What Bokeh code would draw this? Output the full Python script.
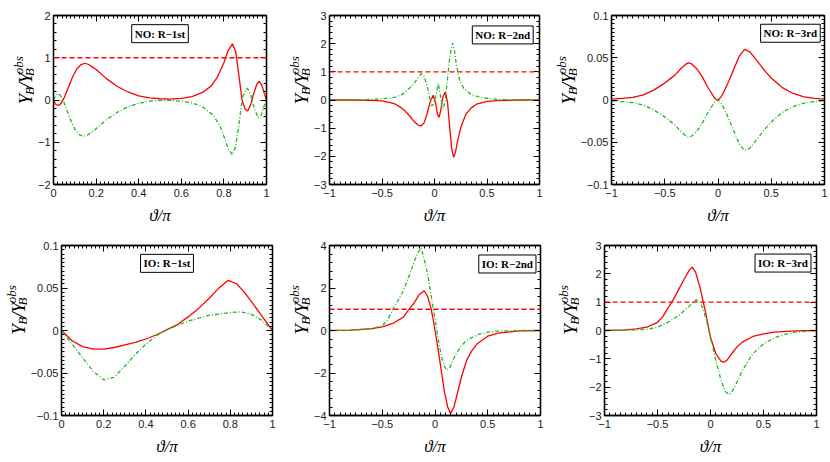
import numpy as np
from bokeh.plotting import figure
from bokeh.layouts import row, column
from bokeh.models import Range1d, FixedTicker, LinearAxis, Span, Label, CustomJSTickFormatter
from bokeh.core.properties import value
from bokeh.embed import file_html
from bokeh.resources import INLINE

RED = "#ff0000"
GREEN = "#22b822"

# ---------------- data ----------------
# Panel 1: NO R-1st
p1_red_x = [0, 0.01, 0.023, 0.035, 0.05, 0.07, 0.09, 0.11, 0.13, 0.148, 0.165, 0.18, 0.2, 0.25, 0.3, 0.35, 0.4, 0.45, 0.5,
            0.55, 0.6, 0.65, 0.7, 0.74, 0.77, 0.8, 0.82, 0.84, 0.855, 0.87, 0.885, 0.9, 0.912, 0.925, 0.94, 0.955, 0.966,
            0.978, 0.99, 1.0]
p1_red_y = [0, -0.1, -0.13, -0.08, 0.05, 0.3, 0.55, 0.74, 0.84, 0.87, 0.84, 0.79, 0.72, 0.5, 0.32, 0.19, 0.1, 0.05, 0.03,
            0.02, 0.04, 0.08, 0.18, 0.33, 0.55, 0.88, 1.17, 1.33, 1.15, 0.6, 0.0, -0.22, -0.26, -0.12, 0.15, 0.38, 0.44,
            0.35, 0.15, 0.0]
p1_grn_x = [0, 0.01, 0.02, 0.03, 0.045, 0.06, 0.08, 0.1, 0.12, 0.14, 0.16, 0.18, 0.2, 0.25, 0.3, 0.35, 0.4, 0.45, 0.5,
            0.55, 0.6, 0.65, 0.7, 0.75, 0.78, 0.8, 0.82, 0.84, 0.855, 0.87, 0.88, 0.89, 0.91, 0.925, 0.94, 0.96, 0.975,
            0.99, 1.0]
p1_grn_y = [0, 0.1, 0.15, 0.12, 0.0, -0.2, -0.47, -0.69, -0.82, -0.86, -0.83, -0.76, -0.68, -0.46, -0.29, -0.16, -0.08,
            -0.03, -0.01, -0.01, -0.03, -0.07, -0.16, -0.36, -0.6, -0.86, -1.15, -1.3, -1.1, -0.6, -0.2, 0.1, 0.28, 0.15,
            -0.15, -0.42, -0.36, -0.12, 0.0]

# Panel 2: NO R-2nd
p2_red_x = [-1, -0.8, -0.6, -0.5, -0.42, -0.37, -0.32, -0.28, -0.24, -0.2, -0.16, -0.13, -0.1, -0.07, -0.04, -0.012,
            0.01, 0.028, 0.044, 0.06, 0.08, 0.104, 0.125, 0.145, 0.165, 0.182, 0.2, 0.22, 0.25, 0.3, 0.35, 0.4, 0.5,
            0.6, 0.8, 1]
p2_red_y = [0, 0, -0.01, -0.03, -0.09, -0.15, -0.27, -0.39, -0.55, -0.74, -0.88, -0.92, -0.82, -0.48, -0.05, 0.17,
            -0.1, -0.5, -0.62, -0.35, 0.12, 0.28, -0.1, -1.0, -1.75, -2.04, -1.85, -1.45, -0.98, -0.5, -0.28, -0.15,
            -0.05, -0.02, 0, 0]
p2_grn_x = [-1, -0.7, -0.5, -0.42, -0.37, -0.3, -0.25, -0.2, -0.16, -0.123, -0.1, -0.07, -0.045, -0.028, -0.01, 0.01,
            0.035, 0.055, 0.07, 0.082, 0.1, 0.12, 0.14, 0.16, 0.172, 0.19, 0.21, 0.24, 0.28, 0.35, 0.45, 0.6, 0.8, 1]
p2_grn_y = [0, 0.01, 0.04, 0.07, 0.1, 0.22, 0.38, 0.55, 0.78, 0.94, 0.85, 0.5, 0.05, -0.21, -0.15, 0.1, 0.59, 0.2,
            -0.25, -0.33, -0.05, 0.6, 1.35, 1.85, 2.02, 1.75, 1.2, 0.7, 0.4, 0.2, 0.08, 0.02, 0, 0]

# Panel 3: NO R-3rd
p3_x = [-1, -0.9, -0.8, -0.7, -0.6, -0.5, -0.45, -0.4, -0.35, -0.3, -0.28, -0.25, -0.2, -0.15, -0.1, -0.06, -0.03,
        -0.01, 0.01, 0.03, 0.06, 0.1, 0.15, 0.2, 0.25, 0.3, 0.35, 0.4, 0.45, 0.5, 0.6, 0.7, 0.8, 0.9, 1]
p3_red_y = [0.001, 0.002, 0.003, 0.006, 0.012, 0.02, 0.025, 0.03, 0.037, 0.0425, 0.044, 0.043, 0.037, 0.028, 0.016,
            0.008, 0.002, 0.0, 0.001, 0.004, 0.011, 0.022, 0.037, 0.052, 0.06, 0.057, 0.049, 0.041, 0.033, 0.026,
            0.015, 0.008, 0.004, 0.002, 0.001]
p3_grn_y = [-0.001, -0.002, -0.003, -0.006, -0.012, -0.02, -0.025, -0.03, -0.037, -0.0425, -0.044, -0.043, -0.037,
            -0.028, -0.016, -0.008, -0.002, 0.0, -0.001, -0.004, -0.011, -0.022, -0.037, -0.052, -0.06, -0.057, -0.049,
            -0.041, -0.033, -0.026, -0.015, -0.008, -0.004, -0.002, -0.001]

# Panel 4: IO R-1st
p4_red_x = [0, 0.05, 0.1, 0.15, 0.2, 0.25, 0.3, 0.35, 0.4, 0.45, 0.5, 0.55, 0.6, 0.65, 0.7, 0.75, 0.79, 0.83, 0.87,
            0.9, 0.95, 1.0]
p4_red_y = [0, -0.012, -0.019, -0.022, -0.022, -0.02, -0.017, -0.014, -0.01, -0.005, 0.001, 0.007, 0.016, 0.026,
            0.038, 0.051, 0.059, 0.055, 0.044, 0.034, 0.017, 0]
p4_grn_x = [0, 0.05, 0.1, 0.15, 0.2, 0.25, 0.3, 0.35, 0.4, 0.45, 0.5, 0.55, 0.6, 0.7, 0.8, 0.85, 0.9, 0.95, 1.0]
p4_grn_y = [0, -0.016, -0.032, -0.048, -0.058, -0.055, -0.042, -0.028, -0.016, -0.006, 0.001, 0.006, 0.011, 0.018,
            0.021, 0.022, 0.019, 0.012, 0]

# Panel 5: IO R-2nd
p5_red_x = [-1, -0.8, -0.6, -0.5, -0.4, -0.3, -0.25, -0.2, -0.15, -0.103, -0.07, -0.04, -0.02, 0, 0.03, 0.06, 0.09,
            0.12, 0.147, 0.18, 0.21, 0.25, 0.3, 0.35, 0.4, 0.5, 0.6, 0.8, 1]
p5_red_y = [0, 0.02, 0.09, 0.17, 0.33, 0.63, 0.97, 1.29, 1.68, 1.87, 1.6, 1.1, 0.6, 0.0, -0.9, -1.9, -2.9, -3.6, -3.9,
            -3.6, -3.0, -2.2, -1.4, -0.95, -0.62, -0.27, -0.12, -0.02, 0]
p5_grn_x = [-1, -0.8, -0.6, -0.5, -0.45, -0.4, -0.35, -0.3, -0.25, -0.2, -0.16, -0.13, -0.1, -0.07, -0.05, -0.03,
            -0.015, 0, 0.03, 0.06, 0.09, 0.113, 0.14, 0.17, 0.2, 0.25, 0.3, 0.4, 0.5, 0.6, 0.8, 1]
p5_grn_y = [0, 0.01, 0.07, 0.24, 0.48, 1.0, 1.41, 1.88, 2.51, 3.2, 3.68, 3.89, 3.29, 2.67, 2.04, 1.45, 1.0, 0.55,
            -0.4, -1.2, -1.7, -1.87, -1.75, -1.4, -1.1, -0.72, -0.46, -0.2, -0.08, -0.03, 0, 0]

# Panel 6: IO R-3rd
p6_red_x = [-1, -0.8, -0.7, -0.6, -0.5, -0.45, -0.4, -0.35, -0.3, -0.25, -0.2, -0.172, -0.14, -0.1, -0.05, 0, 0.05,
            0.1, 0.128, 0.16, 0.2, 0.25, 0.3, 0.4, 0.5, 0.6, 0.8, 1]
p6_red_y = [0, 0.02, 0.06, 0.12, 0.29, 0.49, 0.8, 1.1, 1.45, 1.8, 2.13, 2.24, 2.05, 1.53, 0.7, -0.24, -0.82, -1.09,
            -1.12, -1.03, -0.82, -0.58, -0.41, -0.21, -0.12, -0.06, -0.01, 0]
p6_grn_x = [-1, -0.8, -0.6, -0.5, -0.4, -0.3, -0.2, -0.16, -0.134, -0.1, -0.07, -0.04, 0, 0.05, 0.1, 0.14, 0.175, 0.2,
            0.25, 0.3, 0.4, 0.5, 0.6, 0.7, 0.8, 1]
p6_grn_y = [0, 0.01, 0.04, 0.12, 0.29, 0.53, 0.86, 1.02, 1.08, 1.0, 0.75, 0.4, -0.24, -1.06, -1.76, -2.15, -2.26, -2.18,
            -1.82, -1.41, -0.82, -0.47, -0.26, -0.14, -0.06, 0]

titles = ["NO: R\u22121st", "NO: R\u22122nd", "NO: R\u22123rd", "IO: R\u22121st", "IO: R\u22122nd", "IO: R\u22123rd"]

x_major_01 = [0, 0.2, 0.4, 0.6, 0.8, 1]
x_major_11 = [-1, -0.5, 0, 0.5, 1]
y_major_p1 = [-2, -1, 0, 1, 2]
y_major_p2 = [-3, -2, -1, 0, 1, 2, 3]
y_major_small = [-0.1, -0.05, 0, 0.05, 0.1]
y_major_p5 = [-4, -2, 0, 2, 4]
y_major_p6 = [-3, -2, -1, 0, 1, 2, 3]

# y-axis title pieces:  Y_B / Y_B^obs   (text, centre along axis, baseline shift, font size)
ylab_text = ["Y", "B", "/", "Y", "B", "obs"]
ylab_along = [6, 17.5, 25, 35, 43.5, 53]
ylab_across = [0, 4, 0, 0, 4, -7]
ylab_size = ["19px", "13px", "19px", "19px", "13px", "13px"]

FMT = "return String(tick).replace('-', '\u2212');"

H_TOP, H_BOT = 234, 228


def minor(a, b, step):
    n = int(round((b - a) / step))
    return [round(a + i * step, 6) for i in range(n + 1)]


def style_axis(ax, ticker, labels):
    ax.ticker = ticker
    ax.axis_line_color = "black"
    ax.axis_line_width = 1.3
    ax.major_tick_in = 6
    ax.major_tick_out = 0
    ax.minor_tick_in = 3
    ax.minor_tick_out = 0
    ax.major_tick_line_color = "black"
    ax.minor_tick_line_color = "black"
    ax.major_tick_line_width = 1
    ax.minor_tick_line_width = 1
    if labels:
        ax.formatter = CustomJSTickFormatter(code=FMT)
        ax.major_label_text_font = "Liberation Sans"
        ax.major_label_text_font_size = "11px"
        ax.major_label_text_color = "#1a1a1a"
        ax.major_label_standoff = 3
    else:
        ax.formatter = CustomJSTickFormatter(code="return '';")
        ax.major_label_text_font_size = "0px"
        ax.major_label_text_color = None
        ax.major_label_standoff = 0


def ylabel_fig(w, h, base_x, start_y):
    f = figure(width=w, height=h, x_range=Range1d(0, w), y_range=Range1d(0, h),
               output_backend="svg", toolbar_location=None,
               x_axis_location=None, y_axis_location=None,
               min_border_left=0, min_border_right=0, min_border_top=0, min_border_bottom=0)
    f.outline_line_color = None
    f.xgrid.visible = False
    f.ygrid.visible = False
    for t, a, c, s in zip(ylab_text, ylab_along, ylab_across, ylab_size):
        f.text(x=[base_x + c], y=[start_y + a], text=[t], angle=np.pi / 2,
               text_font=value("Liberation Serif"), text_font_style=value("italic"),
               text_font_size=value(s), text_align=value("center"), text_baseline=value("alphabetic"),
               text_color="black")
    return f


def panel(w, h, bl, br, bt, bb, xr, yr, xmaj, xstep, ymaj, ystep, title, tpos, dashed):
    p = figure(width=w, height=h, x_range=Range1d(*xr), y_range=Range1d(*yr),
               output_backend="svg", toolbar_location=None,
               min_border_left=bl, min_border_right=br, min_border_top=bt, min_border_bottom=bb)
    p.xgrid.visible = False
    p.ygrid.visible = False
    p.outline_line_color = "black"
    p.outline_line_width = 1.3
    bx = p.below[0]
    style_axis(bx, FixedTicker(ticks=xmaj, minor_ticks=minor(xr[0], xr[1], xstep)), True)
    bx.major_label_standoff = 4
    bx.axis_label = "\u03d1/\u03c0"
    bx.axis_label_text_font = "Liberation Serif"
    bx.axis_label_text_font_style = "italic"
    bx.axis_label_text_font_size = "17px"
    bx.axis_label_text_color = "black"
    bx.axis_label_standoff = 6
    style_axis(p.left[0], FixedTicker(ticks=ymaj, minor_ticks=minor(yr[0], yr[1], ystep)), True)
    top = LinearAxis()
    style_axis(top, FixedTicker(ticks=xmaj, minor_ticks=minor(xr[0], xr[1], xstep)), False)
    p.add_layout(top, "above")
    rt = LinearAxis()
    style_axis(rt, FixedTicker(ticks=ymaj, minor_ticks=minor(yr[0], yr[1], ystep)), False)
    p.add_layout(rt, "right")

    if dashed:
        p.add_layout(Span(location=1, dimension="width", line_color=RED, line_width=1.3, line_dash="5 3"))

    tx, ty = tpos
    common = dict(x=tx, y=ty, text=title, text_font="Liberation Serif", text_font_style="bold",
                  text_font_size="11px", text_align="center", text_baseline="middle", padding=3)
    p.add_layout(Label(x_offset=2, y_offset=2, text_alpha=0, background_fill_color="black", **common))
    p.add_layout(Label(background_fill_color="white", border_line_color="black", border_line_width=1,
                       text_color="black", **common))
    return p


def curves(p, rx, ry, gx, gy):
    p.line(rx, ry, line_color=RED, line_width=1.3)
    p.line(gx, gy, line_color=GREEN, line_width=1.3, line_dash="4 2 1 2")


# ---- top row ----
L1 = ylabel_fig(34, H_TOP, 25, 112)
f1 = panel(246, H_TOP, 17, 14, 15, 50, (0, 1), (-2, 2), x_major_01, 0.02, y_major_p1, 0.2,
           titles[0], (0.5, 1.57), True)
curves(f1, p1_red_x, p1_red_y, p1_grn_x, p1_grn_y)

L2 = ylabel_fig(30, H_TOP, 21, 112)
f2 = panel(239, H_TOP, 17, 10, 15, 50, (-1, 1), (-3, 3), x_major_11, 0.05, y_major_p2, 0.2,
           titles[1], (0.65, 2.31), True)
curves(f2, p2_red_x, p2_red_y, p2_grn_x, p2_grn_y)

L3 = ylabel_fig(28, H_TOP, 19, 112)
f3 = panel(253, H_TOP, 34, 6, 15, 50, (-1, 1), (-0.1, 0.1), x_major_11, 0.05, y_major_small, 0.005,
           titles[2], (0.68, 0.079), False)
curves(f3, p3_x, p3_red_y, p3_x, p3_grn_y)

# ---- bottom row ----
L4 = ylabel_fig(27, H_BOT, 18, 109.5)
f4 = panel(255, H_BOT, 32, 10, 11, 47, (0, 1), (-0.1, 0.1), x_major_01, 0.02, y_major_small, 0.005,
           titles[3], (0.5, 0.079), False)
curves(f4, p4_red_x, p4_red_y, p4_grn_x, p4_grn_y)

L5 = ylabel_fig(28, H_BOT, 19, 109.5)
f5 = panel(240, H_BOT, 17, 10, 11, 47, (-1, 1), (-4, 4), x_major_11, 0.05, y_major_p5, 0.4,
           titles[4], (0.686, 3.13), True)
curves(f5, p5_red_x, p5_red_y, p5_grn_x, p5_grn_y)

L6 = ylabel_fig(29, H_BOT, 20, 109.5)
f6 = panel(251, H_BOT, 25, 14, 11, 47, (-1, 1), (-3, 3), x_major_11, 0.05, y_major_p6, 0.2,
           titles[5], (0.684, 2.38), True)
curves(f6, p6_red_x, p6_red_y, p6_grn_x, p6_grn_y)

layout = column(row(L1, f1, L2, f2, L3, f3, spacing=0),
                row(L4, f4, L5, f5, L6, f6, spacing=0), spacing=0)

with open("out.html", "w", encoding="utf-8") as fh:
    fh.write(file_html(layout, INLINE))
